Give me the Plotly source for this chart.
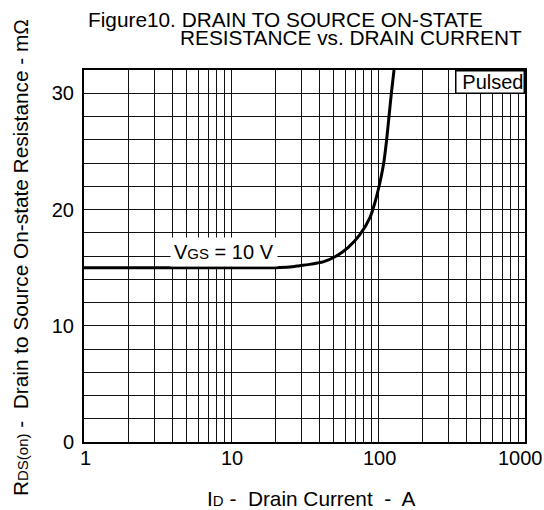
import plotly.graph_objects as go
import math

# ---- data ----
drain_current_A = [1, 10, 20, 25, 29.3, 35, 42.3, 52.1, 62.5, 75.1, 87.8, 95.0, 102.8, 109.3, 114.5, 118.8, 123.3, 128.5]
rds_on_mohm     = [15.0, 15.0, 15.0, 15.05, 15.17, 15.3, 15.49, 16.0, 16.72, 17.81, 19.25, 20.54, 22.26, 23.98, 26.0, 28.0, 30.0, 32.0]

x_grid_vals = [m * 10 ** e for e in range(0, 3) for m in range(1, 10)] + [1000]
x_tick_vals = [1, 10, 100, 1000]
x_tick_text = ["1", "10", "100", "1000"]

y_grid_vals = list(range(0, 33, 2))
y_tick_labels = {0: "0", 10: "10", 20: "20", 30: "30"}

curve_label = "V<span style='font-size:15px'>GS</span> = 10 V"
curve_label_pos = (8.9, 16.35)

FONT = "Liberation Sans, Arial, Helvetica, sans-serif"
W, H = 544, 510
ML, MR, MT, MB = 84, 19, 70, 68
plot_w = W - ML - MR
plot_h = H - MT - MB


def px_x(px):
    return (px - ML) / plot_w


def px_y(py):
    return (H - MB - py) / plot_h


fig = go.Figure()
fig.add_trace(go.Scatter(
    x=drain_current_A, y=rds_on_mohm, mode="lines",
    line=dict(color="black", width=3, shape="spline", smoothing=0.6),
    hoverinfo="skip", showlegend=False,
))

fig.update_layout(
    width=W, height=H,
    margin=dict(l=ML, r=MR, t=MT, b=MB),
    paper_bgcolor="white", plot_bgcolor="white",
    font=dict(family=FONT, size=20, color="black"),
    showlegend=False,
    xaxis=dict(
        type="log", range=[0, 3],
        tickmode="array", tickvals=x_grid_vals,
        showticklabels=False, ticks="",
        showgrid=True, gridcolor="#111", gridwidth=1,
        showline=True, linecolor="black", linewidth=2, mirror=True,
        zeroline=False,
    ),
    yaxis=dict(
        range=[0, 32],
        tickmode="array", tickvals=y_grid_vals,
        ticktext=[y_tick_labels.get(v, "") for v in y_grid_vals],
        ticks="outside", ticklen=4, tickcolor="rgba(0,0,0,0)",
        tickfont=dict(size=20, color="black"),
        showgrid=True, gridcolor="#111", gridwidth=1,
        showline=True, linecolor="black", linewidth=2, mirror=True,
        zeroline=False,
    ),
)

annotations = []
# x tick labels
for v, t in zip(x_tick_vals, x_tick_text):
    annotations.append(dict(
        x=math.log10(v), y=0, xref="x", yref="paper",
        text=t, showarrow=False, xanchor="center", yanchor="middle",
        yshift=-16, xshift=(-5 if v == 1000 else 1),
        font=dict(size=20, color="black"),
    ))

# curve label with white background
annotations.append(dict(
    x=math.log10(curve_label_pos[0]), y=curve_label_pos[1], xref="x", yref="y",
    text=curve_label, showarrow=False, xanchor="center", yanchor="middle",
    bgcolor="white", borderpad=3,
    font=dict(size=20, color="black"),
))

# Pulsed box
annotations.append(dict(
    x=1, y=1, xref="paper", yref="paper", xanchor="right", yanchor="top",
    text="Pulsed", showarrow=False, bgcolor="white",
    bordercolor="black", borderwidth=1.5, borderpad=0,
    width=67, height=21, align="right",
    font=dict(size=20, color="black"),
))

# titles
annotations.append(dict(
    x=px_x(86), y=px_y(20), xref="paper", yref="paper", showarrow=False,
    text="Figure10. DRAIN TO SOURCE ON-STATE", xanchor="left", yanchor="middle",
    font=dict(size=20.8, color="black"),
))
annotations.append(dict(
    x=px_x(524), y=px_y(37), xref="paper", yref="paper", showarrow=False,
    text="RESISTANCE vs. DRAIN CURRENT", xanchor="right", yanchor="middle",
    font=dict(size=20.8, color="black"),
))

# axis titles
annotations.append(dict(
    x=px_x(311.5), y=px_y(498), xref="paper", yref="paper",
    text="I<span style='font-size:15px'>D</span> -  Drain Current  -  A",
    showarrow=False, xanchor="center", yanchor="middle",
    font=dict(size=20.8, color="black"),
))
annotations.append(dict(
    x=px_x(20), y=px_y(258), xref="paper", yref="paper",
    text="R<span style='font-size:15px'>DS(on)</span> -  Drain to Source On-state Resistance - mΩ",
    showarrow=False, xanchor="center", yanchor="middle", textangle=-90,
    font=dict(size=20.8, color="black"),
))

fig.update_layout(annotations=annotations)
fig.write_html(
    "out.html",
    config={"displayModeBar": False},
    post_script="document.body.style.margin='0';document.body.style.padding='0';",
)
